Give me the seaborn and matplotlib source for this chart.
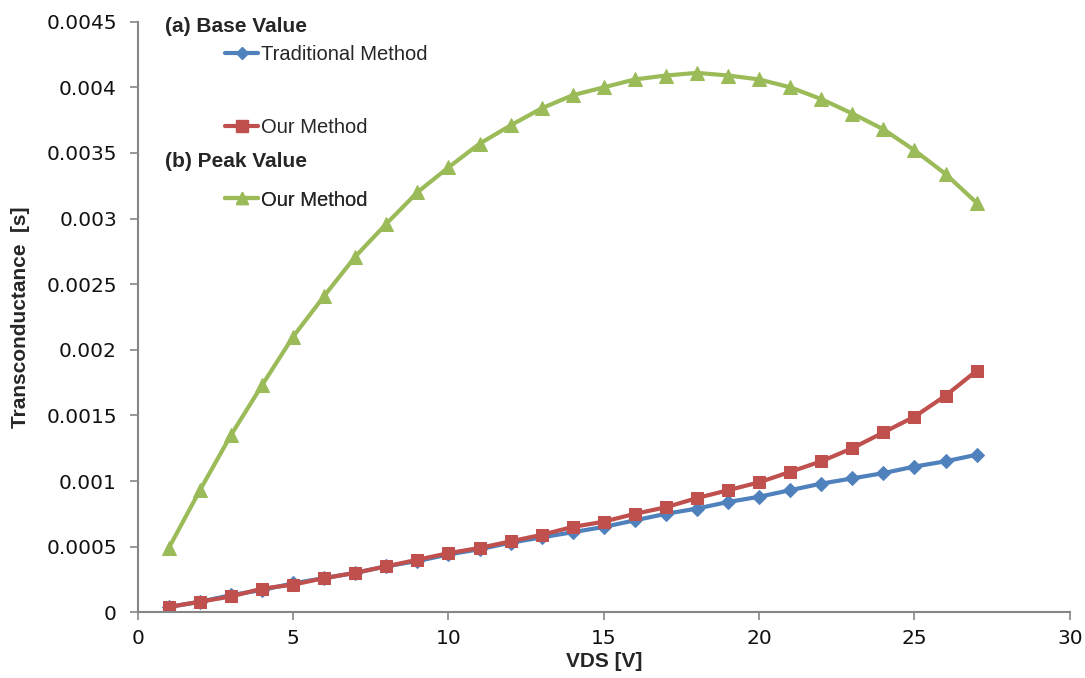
import matplotlib
matplotlib.use("Agg")
import matplotlib.pyplot as plt
from matplotlib import font_manager
from matplotlib.lines import Line2D
import numpy as np
import pandas as pd
import seaborn as sns

# Drain-source voltage sweep [V]
vds = list(range(1, 28))

# (a) base value, traditional method [S]
base_traditional = [0.00004, 0.00008, 0.00013, 0.00017, 0.00022, 0.00026, 0.00030,
                    0.00035, 0.00039, 0.00044, 0.00048, 0.00053, 0.00057, 0.00061,
                    0.00065, 0.00070, 0.00075, 0.00079, 0.00084, 0.00088, 0.00093,
                    0.00098, 0.00102, 0.00106, 0.00111, 0.00115, 0.00120]

# (a) base value, our method [S]
base_ours = [0.00004, 0.00008, 0.00012, 0.00018, 0.00021, 0.00026, 0.00030,
             0.00035, 0.00040, 0.00045, 0.00049, 0.00054, 0.00059, 0.00065,
             0.00069, 0.00075, 0.00080, 0.00087, 0.00093, 0.00099, 0.00107,
             0.00115, 0.00125, 0.00137, 0.00149, 0.00165, 0.00184]

# (b) peak value, our method [S]
peak_ours = [0.00049, 0.00093, 0.00135, 0.00173, 0.00210, 0.00241, 0.00271,
             0.00296, 0.00320, 0.00339, 0.00357, 0.00371, 0.00384, 0.00394,
             0.00400, 0.00406, 0.00409, 0.00411, 0.00409, 0.00406, 0.00400,
             0.00391, 0.00380, 0.00368, 0.00352, 0.00334, 0.00312]

y_ticks = [0, 0.0005, 0.001, 0.0015, 0.002, 0.0025, 0.003, 0.0035, 0.004, 0.0045]
y_tick_labels = ["0", "0.0005", "0.001", "0.0015", "0.002", "0.0025",
                 "0.003", "0.0035", "0.004", "0.0045"]
x_ticks = [0, 5, 10, 15, 20, 25, 30]

BLUE = "#4F81BD"
RED = "#C0504D"
GREEN = "#9BBB59"
AXIS_GRAY = "#868686"

sns.set_theme(style="white")
plt.rcParams["font.family"] = ["DejaVu Sans"]

installed = {f.name for f in font_manager.fontManager.ttflist}
narrow = "Liberation Sans Narrow" if "Liberation Sans Narrow" in installed else "Liberation Sans"

fig = plt.figure(figsize=(10.85, 6.78), dpi=100)
ax = fig.add_axes([0.127, 0.097, 0.859, 0.871])

frame = pd.DataFrame({
    "VDS": vds * 3,
    "gm": base_traditional + base_ours + peak_ours,
    "series": ["trad"] * len(vds) + ["ours"] * len(vds) + ["peak"] * len(vds),
})

styles = {
    "trad": dict(color=BLUE, marker="D", ms=7.5),
    "ours": dict(color=RED, marker="s", ms=9),
    "peak": dict(color=GREEN, marker="^", ms=9.5),
}
for key in ["trad", "ours", "peak"]:
    st = styles[key]
    sns.lineplot(data=frame[frame.series == key], x="VDS", y="gm", ax=ax,
                 color=st["color"], marker=st["marker"], markersize=st["ms"],
                 markeredgecolor=st["color"], linewidth=3, legend=False)

ax.set_xlim(0, 30)
ax.set_ylim(0, 0.0045)
ax.set_xticks(x_ticks)
ax.set_xticklabels([str(t) for t in x_ticks])
ax.set_yticks(y_ticks)
ax.set_yticklabels(y_tick_labels)

for side in ["top", "right"]:
    ax.spines[side].set_visible(False)
for side in ["left", "bottom"]:
    ax.spines[side].set_color(AXIS_GRAY)
    ax.spines[side].set_linewidth(1.5)
ax.tick_params(axis="both", which="major", direction="out", length=6, width=1.2,
               color=AXIS_GRAY, labelsize=14.5, labelcolor="#111111", pad=6,
               left=True, bottom=True)
ax.tick_params(axis="y", pad=9)

ax.set_xlabel("VDS [V]", fontsize=15, fontweight="bold", family=narrow, labelpad=3)
ax.set_ylabel("Transconductance  [s]", fontsize=15, fontweight="bold", family=narrow,
              labelpad=12)

# Legend: two group headers with their entries
ax.text(0.029, 0.992, "(a) Base Value", transform=ax.transAxes, fontsize=15,
        fontweight="bold", family=narrow, va="center", ha="left")
ax.text(0.029, 0.763, "(b) Peak Value", transform=ax.transAxes, fontsize=15,
        fontweight="bold", family=narrow, va="center", ha="left")

entries = [
    (Line2D([], [], color=BLUE, marker="D", ms=6, lw=3), "Traditional Method", 0.945),
    (Line2D([], [], color=RED, marker="s", ms=8, lw=3), "Our Method", 0.821),
    (Line2D([], [], color=GREEN, marker="^", ms=8, lw=3), "Our Method", 0.698),
]
for handle, label, yy in entries:
    leg = ax.legend([handle], [label], loc="center left", bbox_to_anchor=(0.094, yy),
                    frameon=False, handlelength=1.6, handletextpad=0.15,
                    borderpad=0, borderaxespad=0,
                    prop={"family": narrow, "size": 14.5})
    ax.add_artist(leg)

fig.savefig("out.png", dpi=100)
